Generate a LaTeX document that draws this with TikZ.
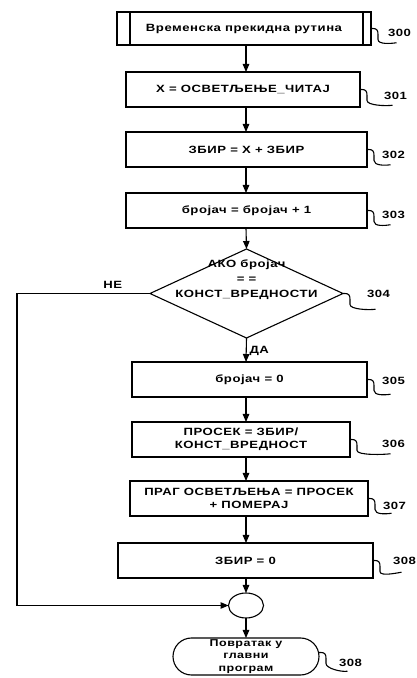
\documentclass[tikz,border=0pt]{standalone}
\usepackage{fontspec}
\setmainfont{Liberation Sans}[FakeStretch=1.25,LetterSpace=5]
\usetikzlibrary{arrows.meta,positioning,shapes.geometric,shapes.misc}

\begin{document}
\begin{tikzpicture}[x=1pt, y=1pt, line width=1.1pt,
  font=\bfseries\fontsize{10.5}{13}\selectfont,
  every node/.style={outer sep=0pt},
  stepbox/.style={draw, minimum height=35pt, inner sep=2pt, align=center},
  decision/.style={draw, diamond, minimum width=193pt, minimum height=89pt, inner sep=0pt},
  joinpt/.style={draw, ellipse, minimum width=35pt, minimum height=25pt, inner sep=0pt},
  terminal/.style={draw, rounded rectangle, minimum width=148pt, minimum height=37pt, inner sep=1pt, align=center, font=\bfseries\fontsize{10}{12.5}\selectfont},
  arr/.style={-{Triangle[length=8pt,width=6.5pt]}},
  ref/.style={inner sep=0pt},
  lead/.style={to path={-- ++(2,0) .. controls +(4,0) and +(0,4) .. ++(5,-6) -- ++(0,-5) .. controls +(0,-5) and +(-6,-1) .. (\tikztotarget)}}
]
\useasboundingbox (0,0) rectangle (416,678);
\coordinate (spine) at (246,0);

\node[stepbox, minimum width=254pt, minimum height=33pt] (p300) at (244,649.5) {Временска прекидна рутина};
\draw ([xshift=13pt]p300.north west) -- ([xshift=13pt]p300.south west);
\draw ([xshift=-8pt]p300.north east) -- ([xshift=-8pt]p300.south east);
\node[stepbox, minimum width=234pt, below=27pt of p300, xshift=-1pt] (p301) {X = ОСВЕТЉЕЊЕ\_ЧИТАЈ};
\node[stepbox, minimum width=241pt, below=25pt of p301, xshift=3.5pt] (p302) {ЗБИР = X + ЗБИР};
\node[stepbox, minimum width=241pt, below=26pt of p302] (p303) {бројач = бројач + 1};
\node[decision, below=21pt of p303] (q304) {\smash{\makebox[0pt]{\raisebox{11pt}{\begin{tabular}{@{}c@{}}АКО бројач\\[2pt] = =\\[2pt] КОНСТ\_ВРЕДНОСТИ\end{tabular}}}}};
\node[stepbox, minimum width=235pt, below=24pt of q304, xshift=3pt] (p305) {бројач = 0};
\node[stepbox, minimum width=218pt, below=25pt of p305, xshift=-8.5pt] (p306) {ПРОСЕК = ЗБИР/\\КОНСТ\_ВРЕДНОСТ};
\node[stepbox, minimum width=238pt, below=24pt of p306, xshift=8pt] (p307) {ПРАГ ОСВЕТЉЕЊА = ПРОСЕК\\+ ПОМЕРАЈ};
\node[stepbox, minimum width=255pt, below=27pt of p307, xshift=-3.5pt] (p308) {ЗБИР = 0};
\node[joinpt, below=15pt of p308, xshift=0.5pt] (join) {};
\node[terminal, below=20pt of join] (ret) {Повратак у\\главни\\програм};

% main flow
\draw[arr] (p300.south -| spine) -- (p301.north -| spine);
\draw[arr] (p301.south -| spine) -- (p302.north -| spine);
\draw[arr] (p302.south -| spine) -- (p303.north -| spine);
\draw[arr] (p303.south -| spine) -- (q304.north);
\draw[arr] (q304.south) -- node[right, pos=0.55] {ДА} (p305.north -| spine);
\draw[arr] (p305.south -| spine) -- (p306.north -| spine);
\draw[arr] (p306.south -| spine) -- (p307.north -| spine);
\draw[arr] (p307.south -| spine) -- (p308.north -| spine);
\draw[arr] (p308.south -| spine) -- (join.north);
\draw[arr] (join.south) -- (ret.north);

% no branch
\coordinate (back) at ([xshift=-133pt]q304.west);
\draw[arr] (q304.west) -- node[above=2pt, pos=0.28] {НЕ} (back) |- (join.west);

% reference numbers
\node[ref, right=17pt of p300, yshift=-4.5pt] (n300) {300};
\node[ref, right=24pt of p301, yshift=-6pt] (n301) {301};
\node[ref, right=15pt of p302, yshift=-5.5pt] (n302) {302};
\node[ref, right=15pt of p303, yshift=-4.5pt] (n303) {303};
\node[ref, right=24pt of q304] (n304) {304};
\node[ref, right=15pt of p305, yshift=-1pt] (n305) {305};
\node[ref, right=32pt of p306, yshift=-4.5pt] (n306) {306};
\node[ref, right=15pt of p307, yshift=-7pt] (n307) {307};
\node[ref, right=20pt of p308] (n308) {308};
\node[ref, right=20pt of ret, yshift=-6pt] (n308b) {308};

\draw[lead] (p300.east) to ([shift={(-3,-6)}]n300.south);
\draw[lead] (p301.east) to ([shift={(-3,-6)}]n301.south);
\draw[lead] (p302.east) to ([shift={(-3,-6)}]n302.south);
\draw[lead] (p303.east) to ([shift={(-3,-6)}]n303.south);
\draw[lead] (q304.east) to ([shift={(-3,-12)}]n304.south);
\draw[lead] (p305.east) to ([shift={(-3,-10)}]n305.south);
\draw[lead] (p306.east) to ([shift={(-3,-6)}]n306.south);
\draw[lead] (p307.east) to ([shift={(-3,-4)}]n307.south);
\draw[lead] (p308.east) to ([shift={(-3,-8)}]n308.south);
\draw[lead] ([yshift=4pt]ret.east) to ([shift={(-3,-5)}]n308b.south);
\end{tikzpicture}
\end{document}
